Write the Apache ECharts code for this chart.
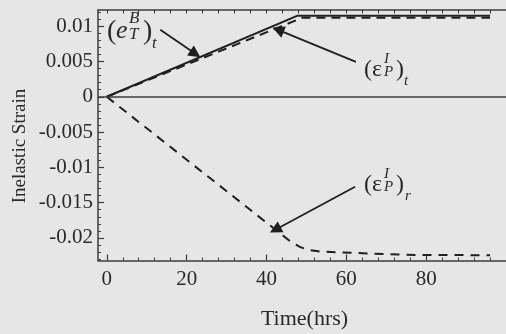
<!DOCTYPE html>
<html>
<head>
<meta charset="utf-8">
<script src="https://cdn.jsdelivr.net/npm/echarts@6/dist/echarts.min.js"></script>
<style>
  html, body { margin: 0; padding: 0; background: #e6e6e6; }
  #chart { width: 506px; height: 334px; }
</style>
</head>
<body>
<div id="chart"></div>
<script>
// Axis tick labels
const timeTicks = [0, 20, 40, 60, 80];
const strainTicks = [-0.02, -0.015, -0.01, -0.005, 0, 0.005, 0.01];

// Total bulk strain (e_T^B)_t
const bulkTime = [0, 47.8, 96];
const bulkStrain = [0, 0.01150, 0.01150];

// Inelastic strain, tangential (eps_P^I)_t
const tangTime = [0, 49, 96];
const tangStrain = [0, 0.01120, 0.01120];

// Inelastic strain, radial (eps_P^I)_r
const radTime = [0, 46, 48.5, 50.5, 53, 58, 75, 96];
const radStrain = [0, -0.0205, -0.0213, -0.0217, -0.0219, -0.02205, -0.0224, -0.02245];

const zip = (xs, ys) => xs.map((x, i) => [x, ys[i]]);

const FONT = '"Liberation Serif", "Times New Roman", serif';
const INK = '#2a2a2a';
const AXIS = '#3c3c3c';

// minor tick positions
const minorTime = [];
for (let t = 0; t <= 100; t += 4) minorTime.push(t);
const minorStrain = [];
for (let k = -23; k <= 12; k++) minorStrain.push(k / 1000);

const fmtStrain = v => String(+v.toFixed(3));

// annotation arrows, in data coordinates (tail -> head)
const arrows = [
  [[13.4, 0.00949], [22.2, 0.00609]],
  [[62.4, 0.00496], [42.9, 0.00949]],
  [[62.2, -0.01275], [42.2, -0.01884]]
];

const chart = echarts.init(document.getElementById('chart'), null, { renderer: 'canvas' });

const xBase = { type: 'value', min: -2.2, max: 100, gridIndex: 0, splitLine: { show: false } };
const yBase = { type: 'value', min: -0.0232, max: 0.0123, gridIndex: 0, splitLine: { show: false } };

// math-style label: ( base ^sup _sub ) _outer
function mathLabel(p) {
  const items = [];
  const t = (text, x, y, size, italic) => items.push({
    type: 'text', silent: true,
    style: {
      text, x, y, fill: INK, font: (italic ? 'italic ' : '') + size + 'px ' + FONT,
      align: 'left', verticalAlign: 'middle'
    }
  });
  t('(', p.x, p.cy, p.paren, false);
  t(p.base, p.x + p.dBase, p.cy + p.baseDy, p.baseSize, p.baseItalic);
  t(p.sup, p.x + p.dScript, p.cy + p.supDy, p.scriptSize, true);
  t(p.sub, p.x + p.dScript, p.cy + p.subDy, p.scriptSize, true);
  t(')', p.x + p.dClose, p.cy, p.paren, false);
  t(p.outer, p.x + p.dOuter, p.cy + p.outerDy, p.scriptSize, true);
  return { type: 'group', children: items };
}

const labelA = mathLabel({ x: 107, cy: 32, paren: 28, base: 'e', baseItalic: true, baseSize: 26, dBase: 9, baseDy: -1,
  sup: 'B', sub: 'T', dScript: 22, supDy: -13, subDy: 3, scriptSize: 17, dClose: 36, outer: 't', dOuter: 45, outerDy: 12 });
const labelB = mathLabel({ x: 364, cy: 70, paren: 24, base: 'ε', baseItalic: false, baseSize: 24, dBase: 8, baseDy: 0,
  sup: 'I', sub: 'P', dScript: 20, supDy: -11, subDy: 2, scriptSize: 15, dClose: 32, outer: 't', dOuter: 40, outerDy: 11 });
const labelC = mathLabel({ x: 364, cy: 185, paren: 24, base: 'ε', baseItalic: false, baseSize: 24, dBase: 8, baseDy: 0,
  sup: 'I', sub: 'P', dScript: 20, supDy: -11, subDy: 2, scriptSize: 15, dClose: 32, outer: 'r', dOuter: 41, outerDy: 11 });

chart.setOption({
  backgroundColor: '#e6e6e6',
  animation: false,
  grid: { left: 98, top: 10, right: -11, bottom: 73.5, containLabel: false },
  xAxis: [
    Object.assign({}, xBase, {
      position: 'bottom',
      axisLine: { show: true, onZero: false, lineStyle: { color: AXIS, width: 1.5 } },
      axisTick: { show: true, inside: true, length: 6, customValues: timeTicks, lineStyle: { color: AXIS, width: 1.2 } },
      axisLabel: { show: true, customValues: timeTicks, margin: 8, color: INK, fontFamily: FONT, fontSize: 21 }
    }),
    Object.assign({}, xBase, {
      position: 'bottom',
      axisLine: { show: false, onZero: false },
      axisTick: { show: true, inside: true, length: 3, customValues: minorTime, lineStyle: { color: AXIS, width: 1 } },
      axisLabel: { show: false }
    }),
    Object.assign({}, xBase, {
      position: 'top',
      axisLine: { show: true, onZero: false, lineStyle: { color: AXIS, width: 1.5 } },
      axisTick: { show: true, inside: true, length: 3.5, customValues: minorTime, lineStyle: { color: AXIS, width: 1 } },
      axisLabel: { show: false }
    })
  ],
  yAxis: [
    Object.assign({}, yBase, {
      position: 'left',
      axisLine: { show: true, onZero: false, lineStyle: { color: AXIS, width: 1.5 } },
      axisTick: { show: true, inside: true, length: 6, customValues: strainTicks, lineStyle: { color: AXIS, width: 1.2 } },
      axisLabel: { show: true, customValues: strainTicks, margin: 5, color: INK, fontFamily: FONT, fontSize: 21,
        formatter: fmtStrain }
    }),
    Object.assign({}, yBase, {
      position: 'left',
      axisLine: { show: false, onZero: false },
      axisTick: { show: true, inside: true, length: 3, customValues: minorStrain, lineStyle: { color: AXIS, width: 1 } },
      axisLabel: { show: false }
    })
  ],
  series: [
    {
      name: '(e_T^B)_t', type: 'line', data: zip(bulkTime, bulkStrain), showSymbol: false, symbol: 'none',
      lineStyle: { color: '#1f1f1f', width: 2 },
      markLine: {
        silent: true, symbol: 'none', label: { show: false },
        lineStyle: { color: AXIS, width: 1.5, type: 'solid' },
        data: [{ yAxis: 0 }]
      }
    },
    {
      name: '(eps_P^I)_t', type: 'line', data: zip(tangTime, tangStrain), showSymbol: false, symbol: 'none',
      lineStyle: { color: '#1f1f1f', width: 2, type: [9, 6] }
    },
    {
      name: '(eps_P^I)_r', type: 'line', data: zip(radTime, radStrain), showSymbol: false, symbol: 'none',
      lineStyle: { color: '#1f1f1f', width: 2, type: [9, 7] }
    },
    {
      name: 'arrows', type: 'lines', coordinateSystem: 'cartesian2d', silent: true,
      symbol: ['none', 'triangle'], symbolSize: [6, 12],
      lineStyle: { color: '#1f1f1f', width: 1.8, opacity: 1 },
      itemStyle: { color: '#1f1f1f' },
      data: arrows.map(a => ({ coords: a }))
    }
  ],
  graphic: [
    labelA, labelB, labelC,
    {
      type: 'text', silent: true,
      style: { text: 'Time(hrs)', x: 304.5, y: 319, align: 'center', verticalAlign: 'middle',
        fill: INK, font: '22px ' + FONT }
    },
    {
      type: 'text', silent: true, x: 20, y: 146, rotation: Math.PI / 2,
      style: { text: 'Inelastic Strain', x: 0, y: 0, align: 'center', verticalAlign: 'middle',
        fill: INK, font: '19px ' + FONT }
    }
  ]
});
</script>
</body>
</html>
